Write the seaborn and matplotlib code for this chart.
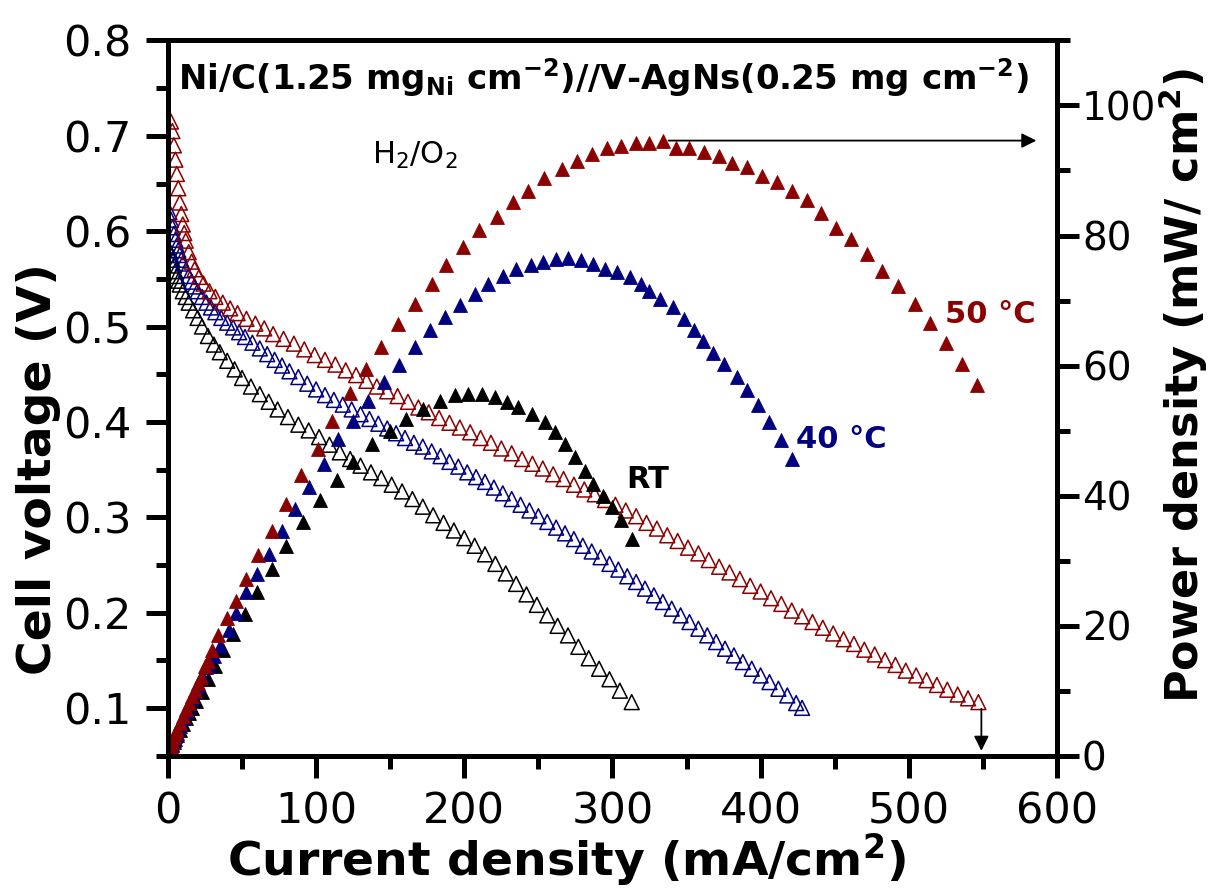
import numpy as np
import pandas as pd
import matplotlib
matplotlib.use("Agg")
import matplotlib.pyplot as plt
from matplotlib.ticker import MultipleLocator
import seaborn as sns

# ---------------- data ----------------
# 50 C : polarisation (open) and power (filled)
I50_v = [2, 3, 4, 5, 6, 7, 8, 9, 10, 11, 12, 14, 16, 18, 21, 24, 28, 32, 37, 42, 47, 53, 59, 65, 71,
         78, 85, 92, 99, 106, 113, 120, 127, 134, 141, 148, 155, 162, 169, 176, 183, 190, 197, 204,
         211, 218, 225, 232, 239, 246, 253, 260, 267, 274, 281, 288, 295, 302, 309, 316, 323, 330,
         337, 344, 351, 358, 365, 372, 379, 386, 393, 400, 407, 414, 421, 428, 435, 442, 449, 456,
         463, 470, 477, 484, 491, 498, 505, 512, 519, 526, 533, 540, 547]
V50 = [0.715, 0.705, 0.690, 0.675, 0.660, 0.645, 0.630, 0.618, 0.607, 0.598, 0.590, 0.578, 0.568,
       0.560, 0.552, 0.545, 0.537, 0.531, 0.525, 0.519, 0.514, 0.508, 0.503, 0.498, 0.492, 0.487,
       0.482, 0.476, 0.470, 0.465, 0.460, 0.454, 0.449, 0.443, 0.437, 0.432, 0.427, 0.421, 0.415,
       0.410, 0.404, 0.399, 0.394, 0.389, 0.383, 0.378, 0.372, 0.367, 0.361, 0.356, 0.351, 0.345,
       0.340, 0.334, 0.329, 0.324, 0.318, 0.313, 0.307, 0.301, 0.294, 0.288, 0.281, 0.275, 0.268,
       0.262, 0.255, 0.248, 0.242, 0.235, 0.228, 0.222, 0.215, 0.209, 0.202, 0.196, 0.190, 0.184,
       0.178, 0.172, 0.167, 0.161, 0.156, 0.150, 0.145, 0.139, 0.134, 0.129, 0.124, 0.119, 0.114,
       0.110, 0.106]
I50_p = [2, 3, 4, 5, 6, 8, 10, 12, 14, 16, 18, 20, 22, 25, 27, 30, 34, 40, 46, 53, 61, 70, 80, 90,
         101, 111, 123, 134, 144, 155, 167, 178, 188, 199, 210, 222, 233, 243, 254, 266, 276, 286,
         296, 306, 316, 325, 334, 343, 352, 362, 372, 381, 391, 401, 411, 421, 431, 441, 451, 461,
         472, 482, 493, 504, 514, 525, 536, 546]
P50 = [1.4, 2.1, 2.8, 3.4, 4.0, 5.0, 6.1, 7.1, 8.1, 9.1, 10.1, 11.1, 12.1, 13.7, 14.6, 16.2, 18.5,
       21.1, 23.8, 27.2, 30.8, 34.6, 38.7, 43.1, 47.2, 51.4, 55.7, 59.5, 62.8, 66.4, 69.5, 72.6,
       75.4, 78.2, 80.8, 82.8, 85.1, 86.9, 88.8, 90.3, 91.5, 92.6, 93.4, 93.8, 94.3, 94.3, 94.6,
       93.5, 93.4, 92.8, 92.3, 91.2, 90.5, 89.2, 88.2, 86.9, 85.4, 83.4, 81.2, 79.5, 77.2, 74.6,
       72.3, 69.5, 66.6, 63.5, 60.3, 57.0]

# 40 C
I40_v = [1, 2, 3, 4, 5, 6, 7, 8, 9, 10, 12, 14, 16, 18, 20, 23, 26, 29, 32, 36, 40, 44, 48, 52, 57,
         62, 67, 72, 77, 82, 88, 94, 100, 106, 112, 118, 124, 130, 136, 142, 148, 154, 160, 166,
         172, 178, 184, 190, 196, 202, 208, 214, 220, 226, 232, 238, 244, 250, 256, 262, 268, 274,
         280, 286, 292, 298, 304, 310, 316, 322, 328, 334, 340, 346, 352, 358, 364, 370, 376, 382,
         388, 394, 400, 406, 412, 418, 424, 428]
V40 = [0.620, 0.612, 0.604, 0.597, 0.591, 0.585, 0.580, 0.575, 0.570, 0.566, 0.559, 0.553, 0.547,
       0.542, 0.537, 0.531, 0.525, 0.520, 0.515, 0.509, 0.504, 0.499, 0.494, 0.489, 0.483, 0.477,
       0.471, 0.465, 0.459, 0.453, 0.447, 0.440, 0.434, 0.428, 0.423, 0.418, 0.413, 0.408, 0.403,
       0.398, 0.393, 0.388, 0.383, 0.378, 0.374, 0.369, 0.364, 0.358, 0.353, 0.347, 0.342, 0.337,
       0.331, 0.325, 0.319, 0.313, 0.307, 0.301, 0.295, 0.289, 0.283, 0.277, 0.270, 0.264, 0.258,
       0.251, 0.245, 0.238, 0.232, 0.225, 0.218, 0.211, 0.204, 0.197, 0.190, 0.183, 0.176, 0.169,
       0.162, 0.155, 0.148, 0.141, 0.134, 0.127, 0.120, 0.113, 0.105, 0.100]
I40_p = [1, 2, 3, 4, 5, 6, 8, 10, 12, 14, 16, 18, 20, 23, 26, 28, 31, 35, 41, 46, 53, 60, 68, 77, 86,
         95, 105, 115, 125, 135, 146, 156, 167, 177, 187, 197, 207, 216, 226, 235, 245, 253, 262,
         270, 279, 287, 295, 303, 312, 319, 325, 332, 341, 348, 355, 361, 368, 375, 384, 391, 398,
         406, 414, 421]
P40 = [0.6, 1.2, 1.8, 2.4, 3.0, 3.5, 4.6, 5.7, 6.7, 7.7, 8.8, 9.8, 10.7, 12.2, 13.6, 14.0, 15.3,
       16.9, 19.3, 22.0, 25.1, 27.9, 31.0, 34.6, 37.9, 41.3, 44.9, 48.7, 51.5, 54.6, 57.4, 60.1,
       62.8, 65.4, 67.4, 69.3, 71.0, 72.5, 73.8, 74.8, 75.4, 75.9, 76.4, 76.5, 76.2, 75.6, 74.9,
       74.4, 73.6, 72.6, 71.5, 70.3, 69.0, 67.2, 65.4, 63.8, 62.0, 60.3, 58.2, 56.2, 54.0, 51.3,
       48.5, 45.6]

# room temperature
IRT_v = [1, 2, 3, 4, 5, 6, 7, 8, 10, 12, 14, 17, 20, 23, 27, 31, 35, 40, 45, 50, 56, 62, 68, 74, 81,
         88, 95, 102, 109, 116, 123, 130, 137, 144, 151, 158, 165, 172, 179, 186, 193, 200, 207,
         214, 221, 228, 235, 242, 249, 256, 263, 270, 277, 284, 291, 298, 305, 313]
VRT = [0.580, 0.575, 0.570, 0.564, 0.558, 0.553, 0.548, 0.544, 0.537, 0.531, 0.525, 0.517, 0.509,
       0.500, 0.490, 0.481, 0.473, 0.464, 0.455, 0.446, 0.437, 0.429, 0.421, 0.413, 0.405, 0.397,
       0.391, 0.384, 0.376, 0.368, 0.361, 0.354, 0.347, 0.341, 0.334, 0.327, 0.319, 0.311, 0.302,
       0.294, 0.286, 0.278, 0.270, 0.261, 0.251, 0.241, 0.230, 0.219, 0.208, 0.197, 0.186, 0.176,
       0.164, 0.152, 0.141, 0.130, 0.118, 0.106]
IRT_p = [1, 2, 3, 4, 5, 6, 8, 10, 12, 14, 16, 19, 22.7, 27.2, 31.7, 37.4, 44, 52, 59.8, 70, 80, 91.3,
         102.6, 113.8, 125, 137.4, 149.8, 161, 172.3, 183.5, 193.7, 202.6, 211.7, 220.6, 228.5,
         236.4, 245.4, 254.4, 261.2, 268, 274.6, 281.4, 287, 293.7, 299.4, 306.1, 312.9]
PRT = [0.55, 1.1, 1.6, 2.1, 2.6, 3.1, 4.0, 4.9, 5.8, 6.6, 7.3, 8.4, 9.7, 11.8, 13.8, 16.2, 18.7,
       21.8, 25.1, 28.7, 32.3, 35.9, 39.3, 42.4, 45.1, 47.9, 50.0, 51.7, 53.3, 54.6, 55.4, 55.6,
       55.6, 55.1, 54.4, 53.6, 52.6, 51.3, 49.7, 47.9, 45.9, 43.8, 41.8, 40.0, 38.2, 36.2, 33.3]

series_labels = ["RT", "40 \u00b0C", "50 \u00b0C"]
colors = ["#000000", "#000080", "#8B0000"]

x_ticks = [0, 100, 200, 300, 400, 500, 600]
yl_ticks = [0.1, 0.2, 0.3, 0.4, 0.5, 0.6, 0.7, 0.8]
yr_ticks = [0, 20, 40, 60, 80, 100]

# ---------------- style ----------------
sns.set_style("ticks")
plt.rcParams["font.family"] = ["DejaVu Sans"]
plt.rcParams["mathtext.fontset"] = "dejavusans"
for key in ("text.color", "axes.labelcolor", "xtick.color", "ytick.color", "axes.edgecolor"):
    plt.rcParams[key] = "black"

fig = plt.figure(figsize=(12.1, 8.9), dpi=100)
ax = fig.add_axes([0.1388, 0.1511, 0.7347, 0.8034])
ax2 = ax.twinx()

volt_sets = [(IRT_v, VRT), (I40_v, V40), (I50_v, V50)]
pow_sets = [(IRT_p, PRT), (I40_p, P40), (I50_p, P50)]

for (xs, ys), c in zip(volt_sets, colors):
    df = pd.DataFrame({"I": xs, "V": ys})
    before = len(ax.collections)
    sns.scatterplot(data=df, x="I", y="V", ax=ax, marker="^", s=115, color=c, legend=False)
    coll = ax.collections[before]
    coll.set_facecolor("none")
    coll.set_edgecolor(c)
    coll.set_linewidth(1.1)

for (xs, ys), c in zip(pow_sets, colors):
    df = pd.DataFrame({"I": xs, "P": ys})
    before = len(ax2.collections)
    sns.scatterplot(data=df, x="I", y="P", ax=ax2, marker="^", s=100, color=c, legend=False)
    coll = ax2.collections[before]
    coll.set_edgecolor(c)
    coll.set_linewidth(0.6)

ax.set_xlim(0, 600)
ax.set_ylim(0.05, 0.8)
ax2.set_ylim(0, 110)
ax.set_xticks(x_ticks)
ax.set_yticks(yl_ticks)
ax2.set_yticks(yr_ticks)
ax.set_xticklabels([str(t) for t in x_ticks])
ax.set_yticklabels([f"{t:.1f}" for t in yl_ticks])
ax2.set_yticklabels([str(t) for t in yr_ticks])
ax.xaxis.set_minor_locator(MultipleLocator(50))
ax.yaxis.set_minor_locator(MultipleLocator(0.05))
ax2.yaxis.set_minor_locator(MultipleLocator(10))

for a in (ax, ax2):
    for sp in a.spines.values():
        sp.set_linewidth(3.6)
        sp.set_color("black")
        sp.set_visible(True)
ax.tick_params(axis="y", which="major", direction="out", length=16, width=3.6,
               labelsize=31, pad=10, right=False, colors="black")
ax.tick_params(axis="x", which="major", direction="out", length=16, width=3.6,
               labelsize=31, pad=9, top=False, colors="black")
ax.tick_params(axis="both", which="minor", direction="out", length=9, width=3.6,
               top=False, right=False, colors="black")
ax2.tick_params(axis="y", which="major", direction="out", length=16, width=3.6,
                labelsize=28, pad=2, colors="black")
ax2.tick_params(axis="y", which="minor", direction="out", length=9, width=3.6, colors="black")

ax.set_xlabel(r"Current density (mA/cm$^{\mathbf{2}}$)", fontsize=34, fontweight="bold")
ax.set_ylabel("Cell voltage (V)", fontsize=34, fontweight="bold", va="center")
ax2.set_ylabel(r"Power density (mW/ cm$^{\mathbf{2}}$)", fontsize=32, fontweight="bold",
               va="center", rotation=90)
ax.xaxis.set_label_coords(0.449, -0.168)
ax.xaxis.label.set_va("baseline")
ax.yaxis.set_label_coords(-0.146, 0.40)
ax2.yaxis.set_label_coords(1.1416, 0.518)

ax.text(0.0112, 0.931,
        r"Ni/C(1.25 mg$_{\mathbf{Ni}}$ cm$^{\mathbf{-2}}$)//V-AgNs(0.25 mg cm$^{\mathbf{-2}}$)",
        transform=ax.transAxes, fontsize=24.5, fontweight="bold", ha="left", va="baseline")
ax.text(0.229, 0.828, r"H$_{2}$/O$_{2}$", transform=ax.transAxes, fontsize=22,
        ha="left", va="baseline")
label_pos = [(0.516, 0.374), (0.707, 0.430), (0.874, 0.605)]
for (tx, ty), lab, c in zip(label_pos, series_labels, colors):
    ax.text(tx, ty, lab, transform=ax.transAxes, fontsize=22, fontweight="bold",
            color=c, ha="left", va="baseline")

# arrows: peak of 50 C power -> right axis ; end of 50 C polarisation -> x axis
k = int(np.argmax(P50))
ax2.annotate("", xy=(588, P50[k]), xytext=(I50_p[k] + 2, P50[k]),
             arrowprops=dict(arrowstyle="-|>", color="black", lw=1.3, mutation_scale=22))
ax.annotate("", xy=(I50_v[-1] + 2, 0.052), xytext=(I50_v[-1] + 2, V50[-1] - 0.004),
            arrowprops=dict(arrowstyle="-|>", color="black", lw=1.3, mutation_scale=22))

fig.savefig("out.png", dpi=100)
